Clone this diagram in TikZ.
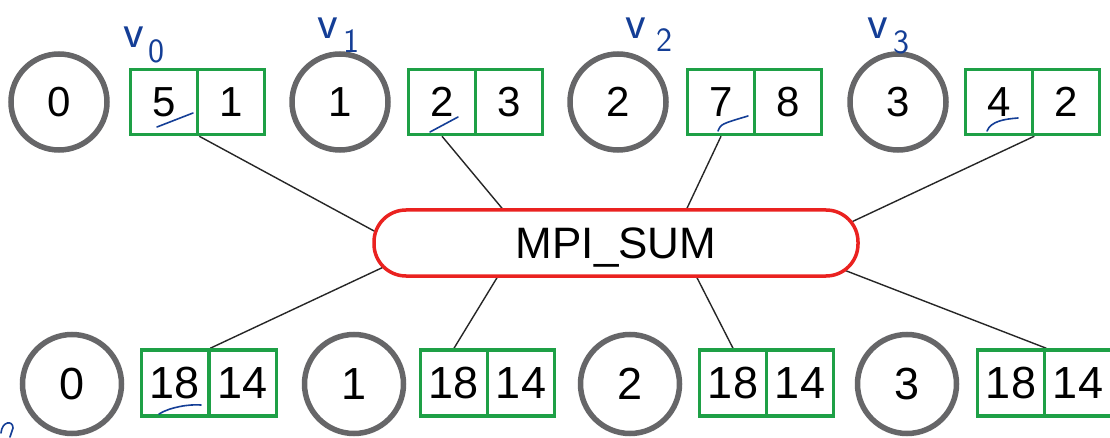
\documentclass[tikz,border=0pt]{standalone}
\usepackage{fontspec}
\setmainfont{Liberation Sans}
\usetikzlibrary{calc}
\definecolor{boxgreen}{RGB}{30,160,70}
\definecolor{ringgray}{RGB}{102,102,104}
\definecolor{sumred}{RGB}{234,34,32}
\definecolor{inkblue}{RGB}{20,62,150}
\pgfdeclarelayer{background}
\pgfsetlayers{background,main}
\begin{document}
\begin{tikzpicture}[x=1pt,y=-1pt,
  rank/.style={circle,draw=ringgray,fill=white,line width=5.5pt,minimum size=96pt,inner sep=0pt,font=\fontsize{42}{42}\selectfont},
  rankB/.style={rank,minimum size=99pt,font=\fontsize{45}{45}\selectfont},
  cell/.style={rectangle,draw=boxgreen,fill=white,line width=3.5pt,minimum width=67pt,minimum height=65pt,inner sep=0pt,font=\fontsize{42}{42}\selectfont},
  cellB/.style={cell,minimum height=66pt,font=\fontsize{45}{45}\selectfont},
  op/.style={rectangle,rounded corners=32pt,draw=sumred,fill=white,line width=3.5pt,minimum width=484pt,minimum height=66pt,text depth=0pt,font=\fontsize{44}{44}\selectfont},
  wire/.style={draw=black!85,line width=1.4pt,shorten >=-12pt},
  hand/.style={text=inkblue,inner sep=0pt,font=\sffamily\fontsize{48}{48}\selectfont},
  handsub/.style={hand,font=\sffamily\fontsize{34}{34}\selectfont},
  ink/.style={draw=inkblue,line width=1.6pt,line cap=round}]
\useasboundingbox (0,0) rectangle (1110,438);
\begin{pgfonlayer}{background}
\fill[white] (0,0) rectangle (1110,438);
\end{pgfonlayer}

% top row
\node[rank] (t0) at (59,102) {0};
\node[rank] (t1) at (340,102) {1};
\node[rank] (t2) at (618,102) {2};
\node[rank] (t3) at (898,102) {3};
\node[cell] (a0) at (164,102) {5};
\node[cell] (b0) at (231,102) {1};
\node[cell] (a1) at (442,102) {2};
\node[cell] (b1) at (509,102) {3};
\node[cell] (a2) at (721,102) {7};
\node[cell] (b2) at (788,102) {8};
\node[cell] (a3) at (999,102) {4};
\node[cell] (b3) at (1066,102) {2};

% operation
\node[op] (sum) at (616,243) {MPI\_SUM};

% bottom row
\node[rankB] (s0) at (72,384) {0};
\node[rankB] (s1) at (354,384) {1};
\node[rankB] (s2) at (630,384) {2};
\node[rankB] (s3) at (907,384) {3};
\node[cellB] (c0) at (175,383) {18};
\node[cellB] (d0) at (243,383) {14};
\node[cellB] (c1) at (454,383) {18};
\node[cellB] (d1) at (521,383) {14};
\node[cellB] (c2) at (733,383) {18};
\node[cellB] (d2) at (800,383) {14};
\node[cellB] (c3) at (1011,383) {18};
\node[cellB] (d3) at (1078,383) {14};

% connectors (behind the operation node)
\begin{pgfonlayer}{background}
\draw[wire] (a0.south east) -- ($(sum.west)+(0,-13)$);
\draw[wire] (a1.south) -- ($(sum.north)+(-114,0)$);
\draw[wire] (a2.south) -- ($(sum.north)+(71,0)$);
\draw[wire] (a3.south east) -- ($(sum.east)+(-4,-23)$);
\draw[wire] (c0.north east) -- ($(sum.west)+(5,27)$);
\draw[wire] (c1.north) -- ($(sum.south)+(-119,0)$);
\draw[wire] (c2.north) -- ($(sum.south)+(81,0)$);
\draw[wire] (c3.north east) -- ($(sum.east)+(-8,30)$);
\end{pgfonlayer}

% handwritten annotations
\node[hand] (v0) at (134,37) {v};
\node[handsub] (v0s) at (156,51) {0};
\node[hand] (v1) at (328,28) {v};
\node[handsub] (v1s) at (351,41) {1};
\node[hand] (v2) at (636,28) {v};
\node[handsub] (v2s) at (664,40) {2};
\node[hand] (v3) at (878,28) {v};
\node[handsub] (v3s) at (901,42) {3};

\draw[ink] (157,127) -- (193,113);
\draw[ink] (430,132) -- (458,117);
\draw[ink] (718,131) .. controls (721,124) .. (748,116);
\draw[ink] (987,131) .. controls (991,121) and (1005,119) .. (1018,118);
\draw[ink] (159,414) .. controls (170,407) and (190,404) .. (201,405);
\draw[ink] (1,433) .. controls (2,421) and (13,420) .. (13,428) -- (10,437);
\end{tikzpicture}
\end{document}
